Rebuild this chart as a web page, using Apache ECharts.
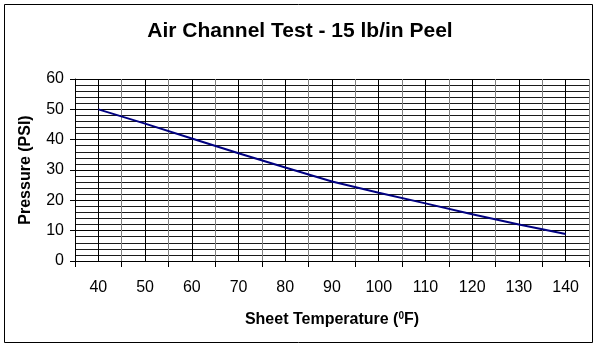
<!DOCTYPE html>
<html>
<head>
<meta charset="utf-8">
<script src="https://cdn.jsdelivr.net/npm/echarts@6/dist/echarts.min.js"></script>
<style>html,body{margin:0;padding:0;background:#fff}#c{width:600px;height:347px}</style>
</head>
<body>
<div id="c"></div>
<script>
var temperatures = [40, 50, 60, 70, 80, 90, 100, 110, 120, 130, 140];
var pressures = [50, 45.3, 40.4, 35.5, 30.8, 26.2, 22.5, 19, 15.4, 12, 8.9];
var yTicks = [0, 10, 20, 30, 40, 50, 60];
var chartTitle = 'Air Channel Test - 15 lb/in Peel';

var FONT = '"Liberation Sans", Arial, sans-serif';
var chart = echarts.init(document.getElementById('c'), null, {renderer: 'canvas'});
chart.setOption({
  animation: false,
  backgroundColor: '#fff',
  textStyle: {fontFamily: FONT, color: '#000'},
  title: {
    text: chartTitle, left: 'center', top: 21, padding: 0,
    textStyle: {fontFamily: FONT, fontSize: 21, fontWeight: 'bold', color: '#000'}
  },
  graphic: [{
    type: 'rect', shape: {x: 4.5, y: 4.5, width: 588, height: 338},
    style: {fill: 'none', stroke: '#000', lineWidth: 1}, z: 100
  }],
  grid: {left: 75, right: 11, top: 79, bottom: 86, containLabel: false},
  xAxis: [{
    type: 'value', min: 35, max: 145, interval: 5,
    axisLine: {show: true, onZero: false, lineStyle: {color: '#000', width: 1}},
    axisTick: {show: false},
    axisLabel: {
      margin: 19, fontSize: 16, color: '#000', fontFamily: FONT,
      formatter: function (v) { return temperatures.indexOf(v) >= 0 ? String(v) : ''; }
    },
    splitLine: {show: true, lineStyle: {color: ['#808080', '#000'], width: 1}},
    name: '{a|Sheet Temperature (}{s|0}{a|F)}',
    nameLocation: 'middle', nameGap: 50,
    nameTextStyle: {
      rich: {
        a: {fontFamily: FONT, fontSize: 16, fontWeight: 'bold', color: '#000'},
        s: {fontFamily: FONT, fontSize: 10, fontWeight: 'bold', color: '#000', verticalAlign: 'top', padding: [0, 0, 8, 0]}
      }
    }
  }, {
    type: 'value', min: 35, max: 145, interval: 10, position: 'bottom',
    axisLine: {show: false},
    axisTick: {show: true, inside: false, length: 6, lineStyle: {color: '#000'}},
    axisLabel: {show: false},
    splitLine: {show: false}
  }],
  yAxis: {
    type: 'value', min: yTicks[0], max: yTicks[yTicks.length - 1], interval: 10,
    axisLine: {show: true, lineStyle: {color: '#000', width: 1}},
    axisTick: {show: true, inside: false, length: 5, lineStyle: {color: '#000'}},
    axisLabel: {margin: 11, fontSize: 16, color: '#000', fontFamily: FONT},
    splitLine: {show: true, lineStyle: {color: '#000', width: 1}},
    minorTick: {show: false, splitNumber: 5},
    minorSplitLine: {show: true, lineStyle: {color: '#1a1a1a', width: 1}},
    name: 'Pressure (PSI)', nameLocation: 'middle', nameGap: 41,
    nameTextStyle: {fontFamily: FONT, fontSize: 16, fontWeight: 'bold', color: '#000'}
  },
  series: [{
    type: 'line', xAxisIndex: 0,
    data: temperatures.map(function (t, i) { return [t, pressures[i]]; }),
    symbol: 'none', smooth: false,
    lineStyle: {color: '#000080', width: 2}, z: 10
  }]
});
</script>
</body>
</html>
